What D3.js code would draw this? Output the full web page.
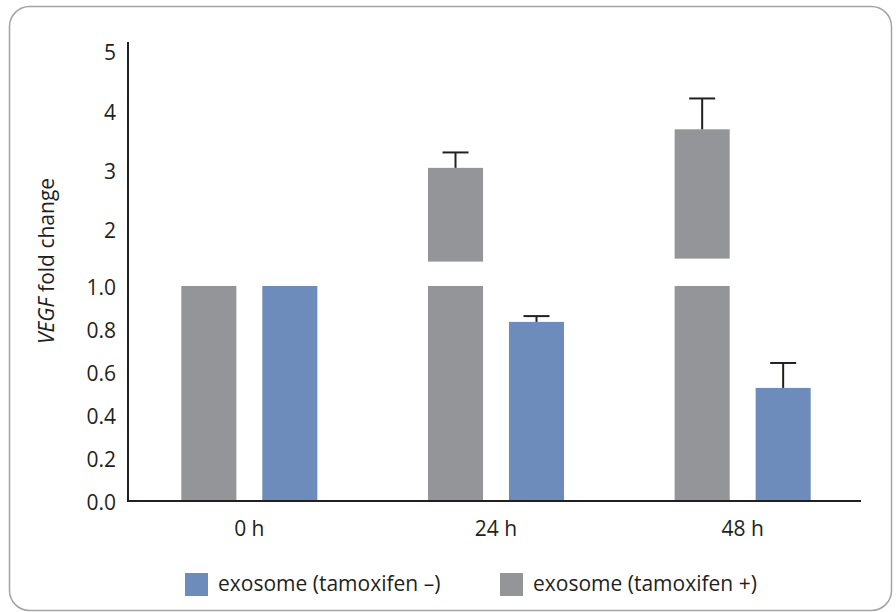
<!DOCTYPE html>
<html>
<head>
<meta charset="utf-8">
<script src="https://cdn.jsdelivr.net/npm/d3@7"></script>
<style>
  html, body { margin: 0; padding: 0; background: #fff; }
  svg { display: block; }
  text { font-family: "Open Sans", "Noto Sans", sans-serif; fill: #231f20; }
</style>
</head>
<body>
<svg id="chart" width="896" height="612"></svg>
<script>
// Time points and series
const times = ["0 h", "24 h", "48 h"];
const seriesKeys = ["plus", "minus"];
const seriesLabels = ["exosome (tamoxifen –)", "exosome (tamoxifen +)"];

// VEGF fold change, tamoxifen + (gray) and tamoxifen – (blue)
const plusValues = [1.0, 3.03, 3.68];
const plusErrors = [0, 0.26, 0.52];
const plusUpperStart = [null, 1.45, 1.50];   // where the upper (broken) segment begins
const minusValues = [1.0, 0.833, 0.526];
const minusErrors = [0, 0.027, 0.116];

// Axis tick labels
const lowerTicks = [0.0, 0.2, 0.4, 0.6, 0.8, 1.0];
const upperTicks = [2, 3, 4, 5];

const colors = { plus: "#939598", minus: "#6e8cbb" };
const ink = "#231f20";

const svg = d3.select("#chart");

// Rounded frame
svg.append("rect")
  .attr("x", 9.5).attr("y", 6.5)
  .attr("width", 882).attr("height", 604)
  .attr("rx", 20).attr("ry", 20)
  .attr("fill", "none").attr("stroke", "#a3a3a3").attr("stroke-width", 1.5);

// Scales: grouped bands on x, a broken y axis (lower 0–1, upper 1–5)
const x0 = d3.scaleBand().domain(times).range([126, 866]);
const x1 = d3.scaleBand().domain(seriesKeys).range([0, x0.bandwidth()])
  .paddingInner(0.32).paddingOuter(0.683);
const yLow = d3.scaleLinear().domain([0, 1]).range([501, 286]);
const yHigh = d3.scaleLinear().domain([1, 5]).range([288.3, 51]);

const fontSize = 21;

// Y tick labels (no tick marks)
const yAxisLow = d3.axisLeft(yLow).tickValues(lowerTicks).tickSize(0).tickPadding(12)
  .tickFormat(d3.format(".1f"));
const yAxisHigh = d3.axisLeft(yHigh).tickValues(upperTicks).tickSize(0).tickPadding(12)
  .tickFormat(d3.format("d"));

[yAxisLow, yAxisHigh].forEach(ax => {
  const g = svg.append("g").attr("transform", "translate(128,0)").call(ax);
  g.select(".domain").remove();
  g.selectAll("text")
    .attr("font-size", fontSize)
    .attr("font-family", "'Open Sans', sans-serif")
    .attr("fill", ink)
    .attr("dy", "0.42em");
});

// X tick labels
const xAxis = d3.axisBottom(x0).tickSize(0).tickPadding(20);
const gx = svg.append("g").attr("transform", "translate(0,501)").call(xAxis);
gx.select(".domain").remove();
gx.selectAll("text")
  .attr("font-size", fontSize)
  .attr("font-family", "'Open Sans', sans-serif")
  .attr("fill", ink);

// Bars
const rows = times.map((t, i) => ({
  time: t,
  plus: plusValues[i], plusErr: plusErrors[i], plusUpper: plusUpperStart[i],
  minus: minusValues[i], minusErr: minusErrors[i]
}));

const groups = svg.append("g").selectAll("g")
  .data(rows).join("g")
  .attr("transform", d => `translate(${x0(d.time)},0)`);

// Gray: lower segment up to 1.0, plus an upper segment when the value exceeds 1
groups.append("rect")
  .attr("x", x1("plus")).attr("width", x1.bandwidth())
  .attr("y", d => yLow(Math.min(d.plus, 1)))
  .attr("height", d => yLow(0) - yLow(Math.min(d.plus, 1)))
  .attr("fill", colors.plus);

groups.filter(d => d.plus > 1).append("rect")
  .attr("x", x1("plus")).attr("width", x1.bandwidth())
  .attr("y", d => yHigh(d.plus))
  .attr("height", d => yHigh(d.plusUpper) - yHigh(d.plus))
  .attr("fill", colors.plus);

// Blue bars on the lower scale
groups.append("rect")
  .attr("x", x1("minus")).attr("width", x1.bandwidth())
  .attr("y", d => yLow(d.minus))
  .attr("height", d => yLow(0) - yLow(d.minus))
  .attr("fill", colors.minus);

// Error bars (upper half only)
const capW = 26;
function errorBar(sel, cx, yTop, yEnd) {
  sel.append("line")
    .attr("x1", cx).attr("x2", cx).attr("y1", yTop).attr("y2", yEnd)
    .attr("stroke", ink).attr("stroke-width", 2);
  sel.append("line")
    .attr("x1", cx - capW / 2).attr("x2", cx + capW / 2).attr("y1", yEnd).attr("y2", yEnd)
    .attr("stroke", ink).attr("stroke-width", 2);
}
groups.filter(d => d.plusErr > 0).each(function(d) {
  errorBar(d3.select(this), x1("plus") + x1.bandwidth() / 2,
    yHigh(d.plus), yHigh(d.plus + d.plusErr));
});
groups.filter(d => d.minusErr > 0).each(function(d) {
  errorBar(d3.select(this), x1("minus") + x1.bandwidth() / 2,
    yLow(d.minus), yLow(d.minus + d.minusErr));
});

// Axis lines
svg.append("line")
  .attr("x1", 128).attr("x2", 128).attr("y1", 42).attr("y2", 502)
  .attr("stroke", ink).attr("stroke-width", 2);
svg.append("line")
  .attr("x1", 127).attr("x2", 861).attr("y1", 501).attr("y2", 501)
  .attr("stroke", ink).attr("stroke-width", 2);

// Y axis title
const title = svg.append("text")
  .attr("transform", "translate(54,261) rotate(-90)")
  .attr("text-anchor", "middle")
  .attr("font-size", fontSize);
title.append("tspan").attr("font-style", "italic").text("VEGF");
title.append("tspan").text(" fold change");

// Legend
const legendItems = [
  { key: "minus", label: seriesLabels[0], x: 185 },
  { key: "plus", label: seriesLabels[1], x: 500 }
];
const lg = svg.append("g").selectAll("g").data(legendItems).join("g")
  .attr("transform", d => `translate(${d.x},573)`);
lg.append("rect").attr("width", 23).attr("height", 23).attr("fill", d => colors[d.key]);
lg.append("text").attr("x", 33).attr("y", 18).attr("font-size", fontSize).text(d => d.label);
</script>
</body>
</html>
